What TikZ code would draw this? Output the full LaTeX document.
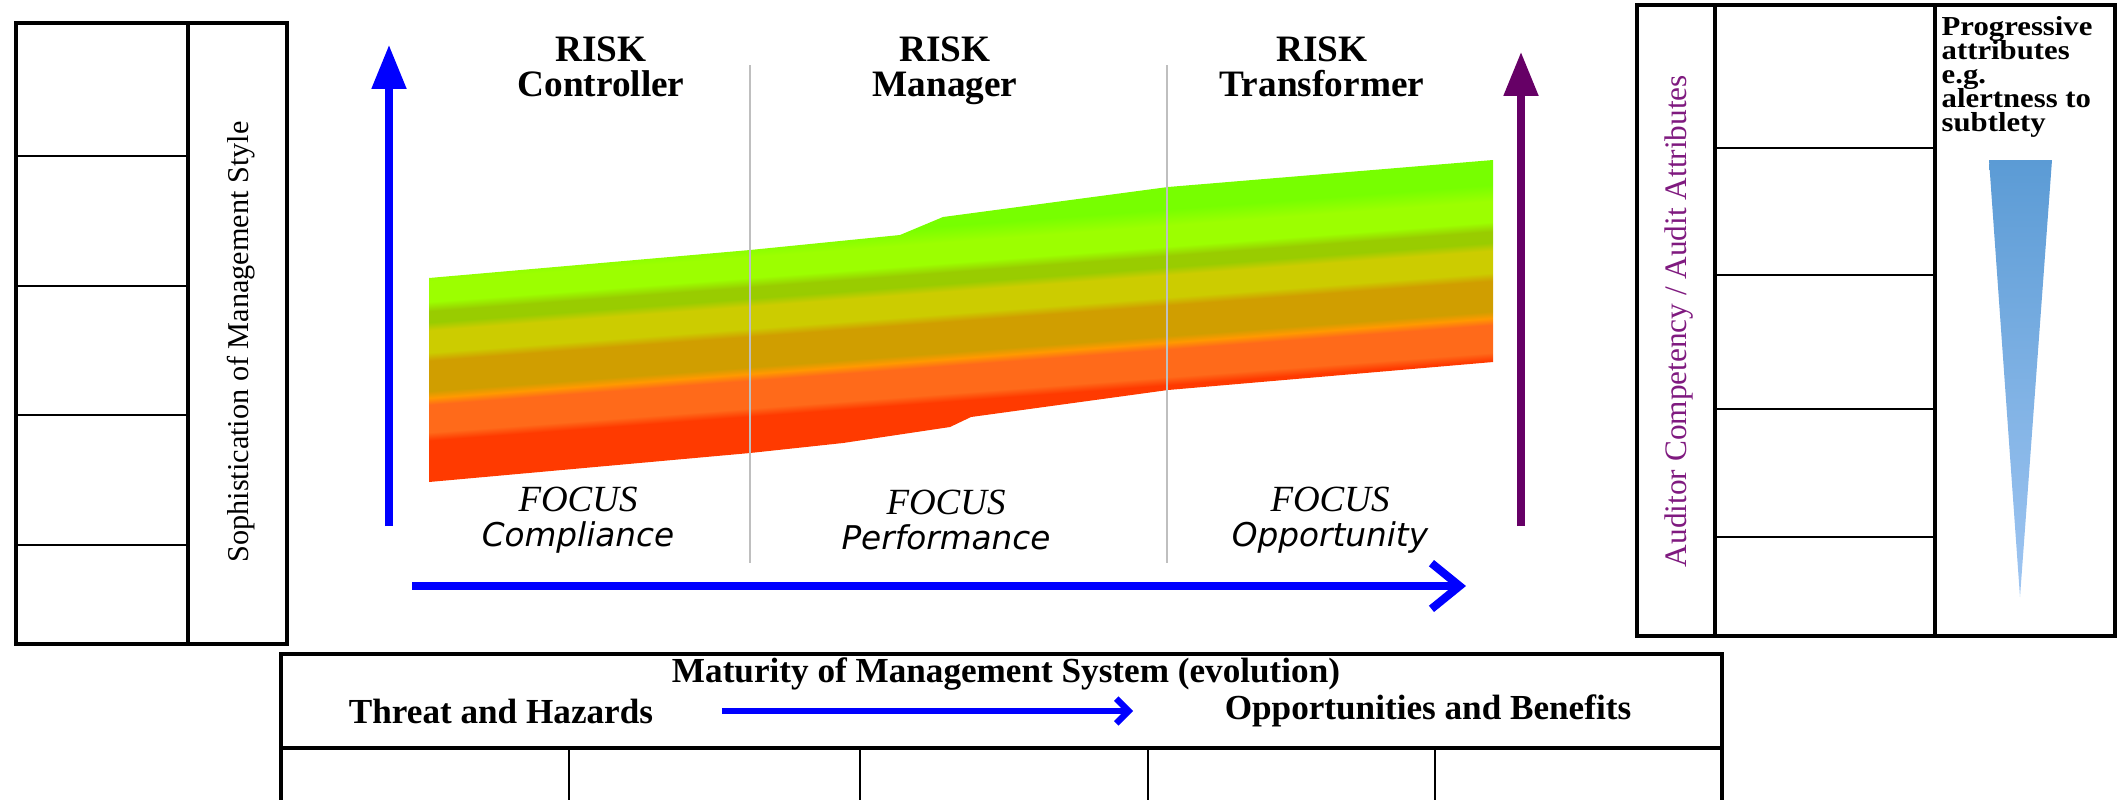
\documentclass[tikz,border=0pt]{standalone}
\usepackage{fontspec}
\setmainfont{Liberation Serif}
\newfontfamily\focusfont{DejaVu Sans Oblique}
\newfontfamily\wideserif{Liberation Serif}[FakeStretch=1.12]
\usetikzlibrary{arrows.meta}

\definecolor{axisblue}{HTML}{0000FF}
\definecolor{axispurple}{HTML}{660066}
\definecolor{labelpurple}{HTML}{7F1A7F}
\definecolor{splitgray}{HTML}{BFBFBF}
\definecolor{bandgreen}{HTML}{77FF00}
\definecolor{bandlime}{HTML}{9CFF00}
\definecolor{bandolive}{HTML}{99CC00}
\definecolor{bandyellow}{HTML}{CCCC00}
\definecolor{bandochre}{HTML}{D09E00}
\definecolor{bandamber}{HTML}{FF9900}
\definecolor{bandorange}{HTML}{FF6A1A}
\definecolor{bandred}{HTML}{FF3A00}
\definecolor{wedgetop}{HTML}{5B9BD5}
\definecolor{wedgebottom}{HTML}{A0C6F2}

\pgfdeclareverticalshading{riskband}{100bp}{color(0bp)=(bandred); color(34bp)=(bandred); color(35.5bp)=(bandorange); color(40.5bp)=(bandorange); color(41.75bp)=(bandamber); color(43bp)=(bandochre); color(48.5bp)=(bandochre); color(50bp)=(bandyellow); color(54bp)=(bandyellow); color(55.5bp)=(bandolive); color(57.5bp)=(bandolive); color(59.25bp)=(bandlime); color(63bp)=(bandlime); color(66bp)=(bandgreen); color(100bp)=(bandgreen)}

\newcommand{\focuslabel}[1]{{\fontsize{10.5}{12}\selectfont\itshape FOCUS}\\[-2pt]{\focusfont\fontsize{9.3}{12}\selectfont #1}}
\newcommand{\tightlines}{\setlength{\lineskiplimit}{-20pt}}

\begin{document}
\begin{tikzpicture}[x=0.01cm, y=-0.01cm,
    frame/.style={line width=1.1pt},
    rule/.style={line width=0.7pt},
    riskhead/.style={anchor=north, inner sep=0pt, align=center, font={\fontsize{10.6}{10}\selectfont\bfseries\tightlines}},
    upaxis/.style={line width=2pt, -{Triangle[length=12.5pt,width=9.5pt]}},
    sidelabel/.style={rotate=90, font={\fontsize{8.6}{10}\selectfont}},
    boxtext/.style={inner sep=0pt, font={\fontsize{10}{12}\selectfont\bfseries}}]
  \useasboundingbox (0,0) rectangle (2126,799);

  % left table
  \draw[frame] (16,23) rectangle (287,644);
  \draw[frame] (188,23) -- (188,644);
  \foreach \y in {156,286,415,545} {
    \draw[rule] (16,\y) -- (188,\y);
  }
  \node[sidelabel] (mgmtstyle) at (241,342) {Sophistication of Management Style};

  % right table
  \draw[frame] (1637,5) rectangle (2115,636);
  \draw[frame] (1715,5) -- (1715,636);
  \draw[frame] (1935,5) -- (1935,636);
  \foreach \y in {148,275,409,537} {
    \draw[rule] (1715,\y) -- (1935,\y);
  }
  \node[sidelabel, text=labelpurple, font={\fontsize{8.9}{10}\selectfont}] (auditor) at (1679,321) {Auditor Competency / Audit Attributes};
  \node[anchor=north west, inner sep=0pt, align=left,
        font={\wideserif\fontsize{7.8}{6.8}\selectfont\bfseries\tightlines}] (progressive) at (1941,16)
    {Progressive\\attributes\\e.g.\\alertness to\\subtlety};
  \shade[top color=wedgetop, bottom color=wedgebottom] (1989,160) -- (2052,160) -- (2020,597) -- cycle;

  % risk band
  \begin{scope}
    \clip (429,278) -- (750,250) -- (900,235) -- (943,217) -- (1168,187) -- (1493,160)
      -- (1493,362) -- (1168,390) -- (971,417) -- (950,427) -- (843,443) -- (750,453) -- (429,482) -- cycle;
    \begin{scope}[transform canvas={shift={(429,215)}, yslant=0.075}]
      \shade[shading=riskband] (0,0) rectangle (1064,275);
    \end{scope}
  \end{scope}

  % stage dividers
  \foreach \x in {750,1167} {
    \draw[splitgray, line width=0.8pt] (\x,65) -- (\x,563);
  }

  % stage titles and focus
  \foreach \t/\x in {Controller/601, Manager/945, Transformer/1322} {
    \node[riskhead] (stage\t) at (\x,36) {RISK\\\t};
  }
  \foreach \f/\x in {Compliance/578, Performance/946, Opportunity/1330} {
    \node[align=center] (focus\f) at (\x,520) {\focuslabel{\f}};
  }

  % axes
  \coordinate (ybot) at (389,526);
  \coordinate (ytop) at (389,45);
  \coordinate (zbot) at (1521,526);
  \coordinate (ztop) at (1521,52);
  \coordinate (xleft) at (412,586);
  \coordinate (xright) at (1466,586);
  \draw[upaxis, axisblue] (ybot) -- (ytop);
  \draw[upaxis, axispurple] (zbot) -- (ztop);
  \draw[axisblue, line width=2.3pt, -{Straight Barb[length=8pt,width=13pt]}] (xleft) -- (xright);

  % bottom table
  \draw[frame] (281,820) -- (281,654) -- (1722,654) -- (1722,820);
  \draw[frame] (281,748) -- (1722,748);
  \foreach \x in {569,860,1148,1435} {
    \draw[rule] (\x,748) -- (\x,820);
  }
  \node[boxtext] (maturity) at (1006,674) {Maturity of Management System (evolution)};
  \node[boxtext] (threats) at (501,711) {Threat and Hazards};
  \node[boxtext] (benefits) at (1428,711) {Opportunities and Benefits};
  \draw[axisblue, line width=1.8pt, shorten <=0.68cm, shorten >=0.91cm,
        -{Straight Barb[length=3.5pt,width=7pt]}] (threats.east) -- (benefits.west);
\end{tikzpicture}
\end{document}
